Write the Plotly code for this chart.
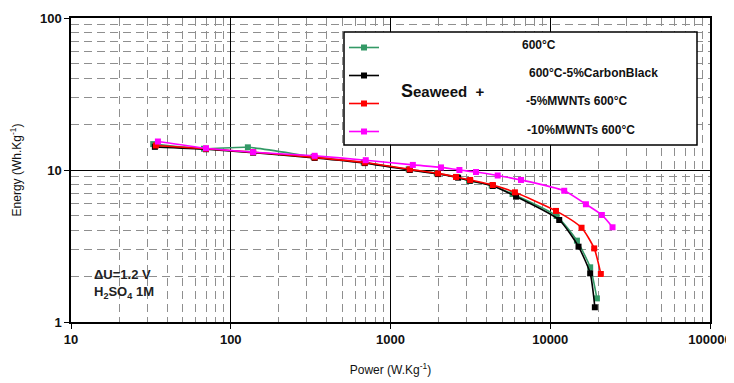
import plotly.graph_objects as go

# ---- data ----
series_names = ["600°C", "600°C-5%CarbonBlack", "-5%MWNTs 600°C", "-10%MWNTs 600°C"]
series_colors = ["#339966", "#000000", "#ff0000", "#ff00ff"]

power_green = [32.7, 68, 128, 330, 680, 1300, 1950, 2600, 3100, 4300, 5810, 10960, 14690, 17780, 19590]
energy_green = [14.8, 13.8, 14.1, 12.2, 11.2, 10.1, 9.5, 9.0, 8.5, 7.9, 6.95, 4.98, 3.43, 2.29, 1.43]

power_black = [33.5, 70, 138, 335, 690, 1320, 1980, 2650, 3150, 4370, 6110, 11380, 15030, 17780, 19020]
energy_black = [14.2, 13.7, 13.0, 12.0, 11.1, 10.0, 9.4, 8.9, 8.5, 7.85, 6.68, 4.69, 3.13, 2.09, 1.25]

power_red = [34, 70, 138, 335, 690, 1320, 1980, 2570, 3150, 4370, 6010, 10860, 15700, 18840, 20730]
energy_red = [14.5, 13.8, 13.1, 12.1, 11.2, 10.1, 9.5, 9.0, 8.6, 7.97, 7.13, 5.38, 4.17, 3.05, 2.07]

power_pink = [35, 70, 138, 335, 700, 1380, 2070, 2700, 3430, 4690, 6560, 12230, 16720, 21040, 24540]
energy_pink = [15.4, 13.9, 13.1, 12.4, 11.6, 10.8, 10.4, 10.0, 9.7, 9.2, 8.6, 7.3, 5.95, 5.06, 4.2]

x_tickvals = [10, 100, 1000, 10000, 100000]
x_ticktext = ["10", "100", "1000", "10000", "100000"]
y_tickvals = [1, 10, 100]
y_ticktext = ["1", "10", "100"]

x_minor = [m * d for d in [10, 100, 1000, 10000] for m in range(2, 10)]
y_minor = [m * d for d in [1, 10] for m in range(2, 10)]

FONT = "Liberation Sans, Arial, sans-serif"
NB = "\u00a0"

# page has an 8px body margin; geometry below is in window pixels
OFF = 8
FIG_W, FIG_H = 734 - OFF, 383 - OFF
L, R, T, B = 71, 710, 18, 322
W, H = R - L, B - T


def px(x):
    return (x - L) / W


def py(y):
    return (B - y) / H


# legend label placement (window pixels): left edge x, centre y
label_x = [520, 527, 524, 525]
label_y = [45, 73, 101, 130]

fig = go.Figure()
all_x = [power_green, power_black, power_red, power_pink]
all_y = [energy_green, energy_black, energy_red, energy_pink]
for i, (name, color, xs, ys) in enumerate(zip(series_names, series_colors, all_x, all_y)):
    fig.add_trace(go.Scatter(
        x=xs, y=ys, mode="lines+markers",
        name=NB,
        hovertext=name, hoverinfo="x+y+text",
        legendgroup=f"g{i}",
        line=dict(color=color, width=1.6, shape="spline", smoothing=0.6),
        marker=dict(symbol="square", size=6, color=color),
    ))
    fig.add_annotation(xref="paper", yref="paper", x=px(label_x[i]), y=py(label_y[i]),
                       xanchor="left", yanchor="middle", showarrow=False, text=f"<b>{name}</b>",
                       font=dict(family=FONT, size=12, color="#111"))

grid_minor = dict(showgrid=True, gridcolor="#8f8f8f", griddash="8px,5px", gridwidth=1, ticks="")

fig.update_xaxes(
    type="log", range=[1, 5], automargin=False,
    tickvals=x_tickvals, ticktext=x_ticktext,
    showgrid=True, gridcolor="black", gridwidth=1,
    showline=True, linecolor="black", linewidth=1.5, mirror=True,
    ticks="outside", ticklen=5, tickcolor="black",
    tickfont=dict(family=FONT, size=13, color="#111", weight="bold"),
    minor=dict(tickvals=x_minor, **grid_minor),
    title=dict(text="Power (W.Kg<sup>-1</sup>)", font=dict(family=FONT, size=12, color="#111"), standoff=19),
    zeroline=False,
)
fig.update_yaxes(
    type="log", range=[0, 2], automargin=False,
    tickvals=y_tickvals, ticktext=y_ticktext,
    showgrid=True, gridcolor="black", gridwidth=1,
    showline=True, linecolor="black", linewidth=1.5, mirror=True,
    ticks="outside", ticklen=5, tickcolor="black",
    tickfont=dict(family=FONT, size=13, color="#111", weight="bold"),
    minor=dict(tickvals=y_minor, **grid_minor),
    title=dict(text="Energy (Wh.Kg<sup>-1</sup>)", font=dict(family=FONT, size=12, color="#111"), standoff=16),
    zeroline=False,
)

# legend frame
fig.add_shape(type="rect", xref="paper", yref="paper",
              x0=px(344), x1=px(697), y0=py(145), y1=py(32),
              line=dict(color="black", width=1.5), fillcolor="white", layer="above")

fig.add_annotation(xref="paper", yref="paper", x=px(399), y=py(91),
                   xanchor="left", yanchor="middle", showarrow=False,
                   text="<b><span style='font-size:18px'>S</span>eaweed" + NB * 2 + "+</b>",
                   font=dict(family=FONT, size=15, color="#111"))

fig.add_annotation(xref="paper", yref="paper", x=px(92), y=py(284),
                   xanchor="left", yanchor="middle", showarrow=False, align="left",
                   text="<b>ΔU=1.2 V<br>H<sub>2</sub>SO<sub>4</sub> 1M</b>",
                   font=dict(family=FONT, size=13, color="#222"))

fig.update_layout(
    width=FIG_W, height=FIG_H,
    margin=dict(l=L - OFF, r=FIG_W - (R - OFF), t=T - OFF, b=FIG_H - (B - OFF), autoexpand=False),
    paper_bgcolor="white", plot_bgcolor="white",
    showlegend=True,
    legend=dict(
        x=px(344), y=py(33), xanchor="left", yanchor="top",
        bgcolor="rgba(0,0,0,0)", borderwidth=0,
        traceorder="grouped", tracegroupgap=9,
        font=dict(family=FONT, size=12, color="#111", weight="bold"),
        itemwidth=30,
    ),
)

fig.write_html("out.html")
